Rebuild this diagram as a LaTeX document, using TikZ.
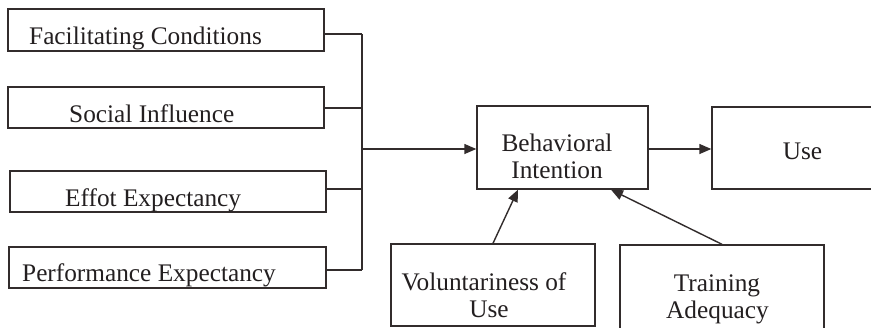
\documentclass[tikz,border=0pt]{standalone}
\usepackage{fontspec}
\setmainfont{Liberation Serif}
\usetikzlibrary{arrows.meta}
\definecolor{ink}{RGB}{35,31,32}
\definecolor{wire}{RGB}{50,44,44}
\begin{document}
\begin{tikzpicture}[x=1pt,y=-1pt,
  box/.style={draw=wire,line width=1.4pt,inner sep=0pt,rectangle},
  lbl/.style={inner sep=0pt,text=ink,font=\fontsize{25.3}{27}\selectfont},
  wireline/.style={draw=wire,line width=1.4pt},
  arr/.style={wireline,-{Triangle[length=12pt,width=10pt]}}]
\useasboundingbox (0,0) rectangle (871,327);
\clip (0,0) rectangle (871,327);
\fill[white] (0,0) rectangle (871,327);
% boxes
\node[box,minimum width=316pt,minimum height=42pt] (FC) at (166,30) {};
\node[box,minimum width=316pt,minimum height=41pt] (SI) at (166,107.5) {};
\node[box,minimum width=316pt,minimum height=41pt] (EE) at (168,191.5) {};
\node[box,minimum width=317pt,minimum height=41pt] (PE) at (167.5,267.5) {};
\node[box,minimum width=171pt,minimum height=83pt] (BI) at (562.5,147.5) {};
\node[box,minimum width=168pt,minimum height=82pt] (USE) at (796,148) {};
\node[box,minimum width=204pt,minimum height=82pt] (VU) at (493,285) {};
\node[box,minimum width=204pt,minimum height=90pt] (TA) at (722,290) {};
% labels
\node[lbl,anchor=base west] (tFC) at (29,44) {Facilitating Conditions};
\node[lbl,anchor=base west] (tSI) at (69,122) {Social Influence};
\node[lbl,anchor=base west] (tEE) at (65,206) {Effot Expectancy};
\node[lbl,anchor=base west] (tPE) at (22,281) {Performance Expectancy};
\node[lbl,anchor=base] (tBI1) at (557,151) {Behavioral};
\node[lbl,anchor=base] (tBI2) at (557,178) {Intention};
\node[lbl,anchor=base] (tUSE) at (802.5,159) {Use};
\node[lbl,anchor=base] (tVU1) at (484,290) {Voluntariness of};
\node[lbl,anchor=base] (tVU2) at (489,317) {Use};
\node[lbl,anchor=base] (tTA1) at (717,291) {Training};
\node[lbl,anchor=base] (tTA2) at (717.5,318) {Adequacy};
% junctions
\coordinate (jFC) at (362,34);
\coordinate (jSI) at (362,108);
\coordinate (jMid) at (362,149);
\coordinate (jEE) at (362,189);
\coordinate (jPE) at (362,270);
\draw[wireline] (FC.east |- jFC) -- (jFC);
\draw[wireline] (SI.east |- jSI) -- (jSI);
\draw[wireline] (EE.east |- jEE) -- (jEE);
\draw[wireline] (PE.east |- jPE) -- (jPE);
\draw[wireline] (jFC) -- (jPE);
\draw[arr] (jMid) -- (BI.west |- jMid);
\draw[arr] (BI.east |- jMid) -- (USE.west |- jMid);
\draw[arr] (VU.north) -- ([xshift=-44.5pt]BI.south);
\draw[arr] (TA.north) -- ([xshift=48.5pt]BI.south);
\end{tikzpicture}
\end{document}
